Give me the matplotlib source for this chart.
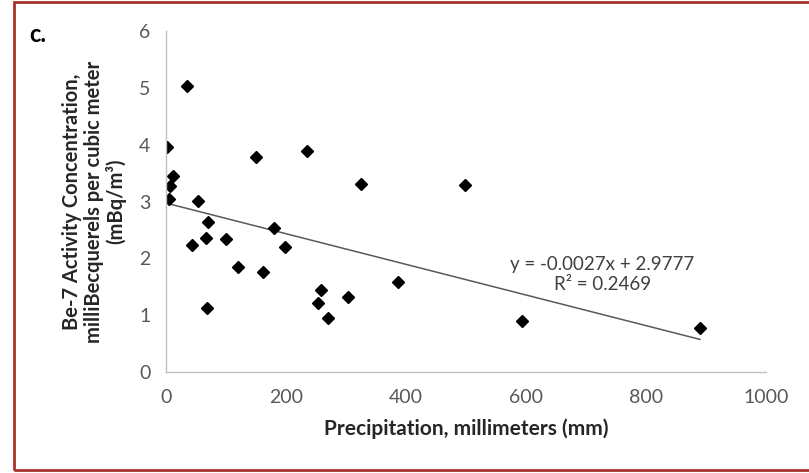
import matplotlib.pyplot as plt
from matplotlib.patches import Rectangle

# precipitation (mm) vs Be-7 activity (mBq/m3)
precip = [35, 3, 151, 236, 13, 7, 326, 499, 5, 54,
          70, 67, 44, 100, 181, 198, 120, 162, 258, 253,
          303, 270, 387, 69, 593, 890]
be7 = [5.04, 3.96, 3.79, 3.90, 3.45, 3.28, 3.32, 3.30, 3.05, 3.01,
       2.65, 2.36, 2.24, 2.34, 2.54, 2.21, 1.85, 1.76, 1.44, 1.21,
       1.33, 0.95, 1.58, 1.13, 0.89, 0.78]

slope = -0.0027
intercept = 2.9777
r2 = 0.2469

xticks = [0, 200, 400, 600, 800, 1000]
yticks = [0, 1, 2, 3, 4, 5, 6]

plt.rcParams['font.family'] = ['Lato', 'DejaVu Sans']

fig = plt.figure(figsize=(8.09, 4.73), dpi=100)
ax = fig.add_axes([0.2048, 0.2135, 0.742, 0.72])

# trend line
tx = [0, max(precip)]
ty = [slope * v + intercept for v in tx]
ax.plot(tx, ty, '-', color='#595959', lw=1.1)

ax.plot(precip, be7, 'D', color='black', ms=6, ls='none')

ax.set_xlim(0, 1000)
ax.set_ylim(0, 6)
ax.set_xticks(xticks)
ax.set_yticks(yticks)
ax.tick_params(length=0, labelsize=14, colors='#595959')
ax.tick_params(axis='x', pad=12)
ax.tick_params(axis='y', pad=11)
for s in ['top', 'right']:
    ax.spines[s].set_visible(False)
for s in ['left', 'bottom']:
    ax.spines[s].set_color('#BFBFBF')
    ax.spines[s].set_linewidth(1)

ax.set_xlabel("Precipitation, millimeters (mm)", fontsize=15, fontweight='bold',
              color='#262626', labelpad=9)
ax.set_ylabel("Be-7 Activity Concentration,\nmilliBecquerels per cubic meter\n(mBq/m³)",
              fontsize=14.5, fontweight='bold', color='#262626', labelpad=9,
              linespacing=1.1)

eq = "y = %.4fx + %.4f\nR² = %.4f" % (slope, intercept, r2)
ax.text(727, 1.72, eq, ha='center', va='center', fontsize=13.5,
        color='#404040', linespacing=1.2)

fig.text(0.036, 0.912, "c.", fontsize=17, fontweight='bold', color='black')

# frame around the panel (right side open)
fig.patches.append(Rectangle((13.5 / 809, 3 / 473), 1.2, 467.5 / 473,
                             transform=fig.transFigure, fill=False,
                             edgecolor='#A8322A', lw=2))

fig.savefig('out.png', dpi=100)
